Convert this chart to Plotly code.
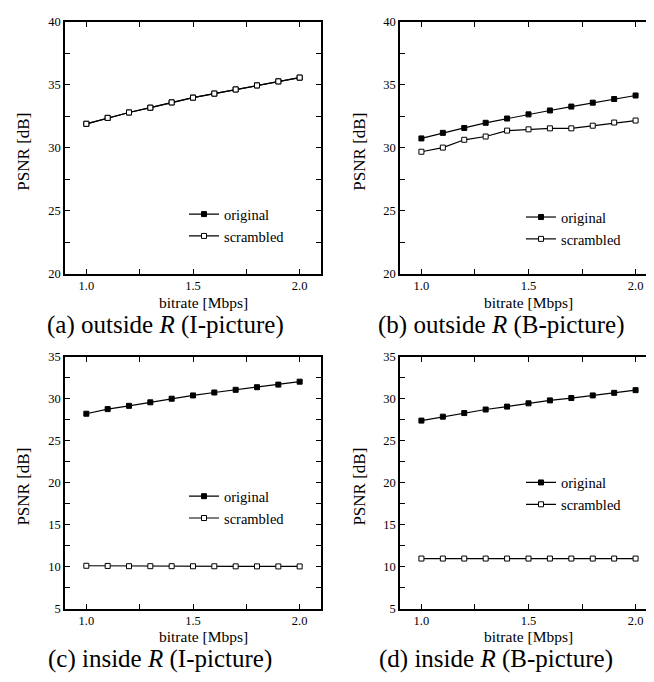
import plotly.graph_objects as go

bitrate = [1.0, 1.1, 1.2, 1.3, 1.4, 1.5, 1.6, 1.7, 1.8, 1.9, 2.0]

a_original = [31.9, 32.37, 32.8, 33.18, 33.6, 33.98, 34.3, 34.63, 34.95, 35.27, 35.57]
a_scrambled = [31.9, 32.37, 32.8, 33.18, 33.6, 33.98, 34.3, 34.63, 34.95, 35.27, 35.57]

b_original = [30.74, 31.18, 31.57, 31.98, 32.32, 32.65, 32.96, 33.27, 33.58, 33.87, 34.15]
b_scrambled = [29.68, 30.01, 30.63, 30.89, 31.36, 31.46, 31.54, 31.54, 31.75, 32.0, 32.16]

c_original = [28.22, 28.77, 29.16, 29.58, 30.01, 30.4, 30.75, 31.07, 31.38, 31.69, 32.04]
c_scrambled = [10.1, 10.08, 10.05, 10.05, 10.05, 10.04, 10.04, 10.03, 10.03, 10.02, 10.02]

d_original = [27.4, 27.87, 28.3, 28.72, 29.07, 29.46, 29.81, 30.09, 30.4, 30.71, 31.03]
d_scrambled = [10.96, 10.96, 10.96, 10.96, 10.96, 10.96, 10.96, 10.96, 10.96, 10.96, 10.96]

series_names = ["original", "scrambled"]
captions = ["(a) outside <i>R</i> (I-picture)", "(b) outside <i>R</i> (B-picture)",
            "(c) inside <i>R</i> (I-picture)", "(d) inside <i>R</i> (B-picture)"]
x_title = "bitrate [Mbps]"
y_title = "PSNR [dB]"

W, H = 654, 682
FONT = "Liberation Serif"

# panel pixel boxes: left, right, top, bottom
boxes = [(57, 313, 7, 264), (392, 649, 7, 264), (57, 313, 349, 606), (392, 649, 349, 606)]
yranges = [[20, 40], [20, 40], [5, 35], [5, 35]]
legend_pos = [(176, 187), (513, 190), (176, 475), (513, 461)]  # left, top in px
xtitle_pos = [(195, 294), (520, 294), (195, 635), (520, 635)]
caption_pos = [(157, 316), (493, 316), (152, 658), (488, 658)]
ytitle_x = [16, 352, 16, 352]

data = [(a_original, a_scrambled), (b_original, b_scrambled),
        (c_original, c_scrambled), (d_original, d_scrambled)]

fig = go.Figure()
layout = dict(
    width=W, height=H, margin=dict(l=0, r=0, t=0, b=0),
    paper_bgcolor="white", plot_bgcolor="white",
    font=dict(family=FONT, color="black", size=12),
    showlegend=True, annotations=[],
)

for i, (orig, scr) in enumerate(data):
    n = i + 1
    xa = "x" if n == 1 else f"x{n}"
    ya = "y" if n == 1 else f"y{n}"
    lg = "legend" if n == 1 else f"legend{n}"
    for name, vals, fill in [(series_names[0], orig, "black"), (series_names[1], scr, "white")]:
        fig.add_trace(go.Scatter(
            x=bitrate, y=vals, name=name, mode="lines+markers",
            xaxis=xa, yaxis=ya, legend=lg,
            line=dict(color="black", width=1.2),
            marker=dict(symbol="square", size=5, color=fill, line=dict(color="black", width=1)),
        ))
    l, r, t, b = boxes[i]
    xkey = "xaxis" if n == 1 else f"xaxis{n}"
    ykey = "yaxis" if n == 1 else f"yaxis{n}"
    layout[xkey] = dict(
        domain=[l / W, r / W], anchor=ya, range=[0.9, 2.1],
        tickmode="array", tickvals=[1.0, 1.5, 2.0], ticktext=["1.0", "1.5", "2.0"],
        ticks="inside", ticklen=5, tickwidth=1, tickcolor="black",
        minor=dict(tickvals=[1.25, 1.75], ticks="inside", ticklen=5, tickcolor="black", showgrid=False),
        showline=True, linecolor="black", linewidth=1.5, mirror="ticks",
        showgrid=False, zeroline=False, tickfont=dict(size=12.5, family=FONT),
    )
    lo, hi = yranges[i]
    layout[ykey] = dict(
        domain=[1 - b / H, 1 - t / H], anchor=xa, range=[lo, hi],
        dtick=5, tick0=0,
        ticks="inside", ticklen=5, tickwidth=1, tickcolor="black",
        minor=dict(dtick=2.5, tick0=0, ticks="inside", ticklen=5, tickcolor="black", showgrid=False),
        showline=True, linecolor="black", linewidth=1.5, mirror="ticks",
        showgrid=False, zeroline=False, tickfont=dict(size=12.5, family=FONT),
    )
    lx, ly = legend_pos[i]
    layout[lg] = dict(
        x=lx / W, y=1 - ly / H, xanchor="left", yanchor="top",
        bgcolor="rgba(0,0,0,0)", font=dict(size=14.5, family=FONT),
        tracegroupgap=0, itemwidth=30,
    )
    tx, ty = xtitle_pos[i]
    layout["annotations"].append(dict(
        text=x_title, x=tx / W, y=1 - ty / H, xref="paper", yref="paper",
        showarrow=False, xanchor="center", yanchor="middle", font=dict(size=15.5, family=FONT)))
    layout["annotations"].append(dict(
        text=y_title, x=ytitle_x[i] / W, y=1 - ((t + b) / 2 + 4) / H, xref="paper", yref="paper",
        showarrow=False, xanchor="center", yanchor="middle", textangle=-90,
        font=dict(size=17, family=FONT)))
    cx, cy = caption_pos[i]
    layout["annotations"].append(dict(
        text=captions[i], x=cx / W, y=1 - cy / H, xref="paper", yref="paper",
        showarrow=False, xanchor="center", yanchor="middle",
        font=dict(size=25, family=FONT)))

fig.update_layout(**layout)
fig.write_html("out.html")
